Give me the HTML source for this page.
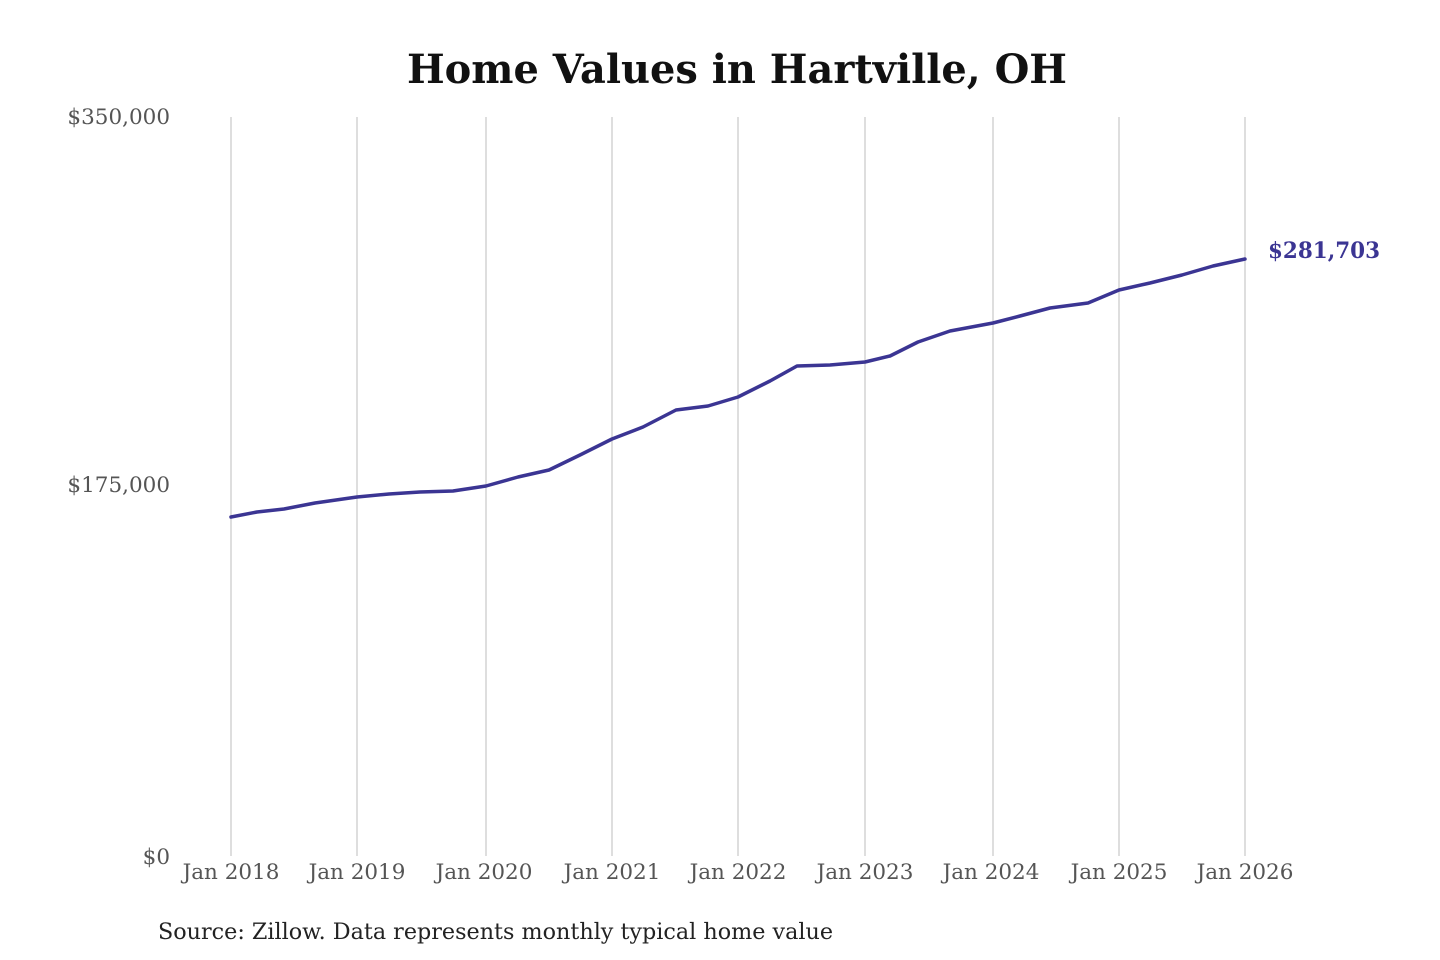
<!DOCTYPE html>
<html><head><meta charset="utf-8"><style>
html,body{margin:0;padding:0;background:#fff;width:1440px;height:960px;overflow:hidden}
</style></head><body>
<svg width="1440" height="960" viewBox="0 0 1440 960" xmlns="http://www.w3.org/2000/svg">
<text x="737" y="83" text-anchor="middle" font-family="DejaVu Serif, Liberation Serif, serif" font-weight="bold" font-size="40" textLength="660" lengthAdjust="spacingAndGlyphs" fill="#111">Home Values in Hartville, OH</text>
<g stroke="#c8c8c8" stroke-width="1.2">
<line x1="231" y1="117" x2="231" y2="856"/><line x1="357" y1="117" x2="357" y2="856"/>
<line x1="486" y1="117" x2="486" y2="856"/><line x1="612" y1="117" x2="612" y2="856"/>
<line x1="738" y1="117" x2="738" y2="856"/><line x1="865" y1="117" x2="865" y2="856"/>
<line x1="993" y1="117" x2="993" y2="856"/><line x1="1119" y1="117" x2="1119" y2="856"/>
<line x1="1245" y1="117" x2="1245" y2="856"/>
</g>
<g font-family="DejaVu Serif, Liberation Serif, serif" font-size="21.5" fill="#555">
<text x="170" y="124" text-anchor="end">$350,000</text>
<text x="170" y="492" text-anchor="end">$175,000</text>
<text x="170" y="864" text-anchor="end">$0</text>
<g text-anchor="middle">
<text x="231" y="879">Jan 2018</text><text x="357" y="879">Jan 2019</text>
<text x="484" y="879">Jan 2020</text><text x="612" y="879">Jan 2021</text>
<text x="738" y="879">Jan 2022</text><text x="865" y="879">Jan 2023</text>
<text x="991" y="879">Jan 2024</text><text x="1119" y="879">Jan 2025</text>
<text x="1245" y="879">Jan 2026</text>
</g></g>
<polyline fill="none" stroke="#3b3593" stroke-width="3.5" stroke-linejoin="round" stroke-linecap="round"
points="231,517 257,512 284,509 315,503 357,497 389,494 420,492 453,491 486,486 518,477 549,470 580,455 612,439 643,427 676,410 708,406 738,397 770,381 797,366 830,365 865,362 890,356 918,342 950,331 993,323 1020,316 1050,308 1088,303 1119,290 1150,283 1182,275 1213,266 1245,259"/>
<text x="1268" y="258" font-family="DejaVu Serif, Liberation Serif, serif" font-weight="bold" font-size="22" textLength="112" lengthAdjust="spacingAndGlyphs" fill="#3b3593">$281,703</text>
<text x="158" y="939" font-family="DejaVu Serif, Liberation Serif, serif" font-size="22" textLength="675" lengthAdjust="spacingAndGlyphs" fill="#222">Source: Zillow. Data represents monthly typical home value</text>
</svg>
</body></html>
